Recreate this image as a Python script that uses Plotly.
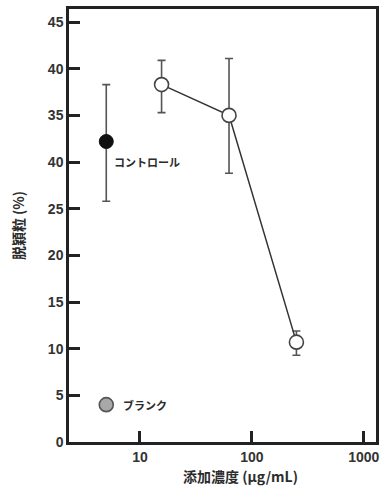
import plotly.graph_objects as go

# Treatment series (open circles joined by a line)
conc = [15.6, 62.5, 250]
ratio = [38.3, 35.0, 10.7]
err_plus = [2.6, 6.1, 1.2]
err_minus = [3.0, 6.2, 1.4]

# Reference points
control_x = [5]
control_y = [32.2]
control_plus = [6.1]
control_minus = [6.4]
blank_x = [5]
blank_y = [4.0]

y_tickvals = [0, 5, 10, 15, 20, 25, 30, 35, 40, 45]
y_ticktext = ["0", "5", "10", "15", "20", "25", "40", "35", "40", "45"]
x_tickvals = [10, 100, 1000]
x_ticktext = ["10", "100", "1000"]

font_family = "Liberation Sans, Noto Sans CJK JP, sans-serif"
jp_family = "Noto Sans CJK JP, sans-serif"
ink = "#2b2b2b"
bar_col = "#555555"

fig = go.Figure()

fig.add_trace(go.Scatter(
    x=control_x, y=control_y, mode="markers",
    marker=dict(size=14, color="#111111", line=dict(color="#111111", width=1)),
    error_y=dict(type="data", symmetric=False, array=control_plus, arrayminus=control_minus,
                 color=bar_col, thickness=1.6, width=4),
    showlegend=False,
))

fig.add_trace(go.Scatter(
    x=conc, y=ratio, mode="lines+markers",
    line=dict(color="#333333", width=1.5),
    marker=dict(size=14, color="white", line=dict(color="#444444", width=1.6)),
    error_y=dict(type="data", symmetric=False, array=err_plus, arrayminus=err_minus,
                 color=bar_col, thickness=1.6, width=4),
    showlegend=False,
))

fig.add_trace(go.Scatter(
    x=blank_x, y=blank_y, mode="markers",
    marker=dict(size=14, color="#a8a8a8", line=dict(color="#555555", width=1.6)),
    showlegend=False,
))

fig.add_annotation(x=0.699, y=control_y[0] - 2.2, xref="x", yref="y", text="コントロール",
                   showarrow=False, xanchor="left", xshift=6,
                   font=dict(family=jp_family, size=11, color=ink, weight="bold"))
fig.add_annotation(x=0.699, y=blank_y[0], xref="x", yref="y", text="ブランク",
                   showarrow=False, xanchor="left", xshift=15,
                   font=dict(family=jp_family, size=11, color=ink, weight="bold"))

# x-axis title placed as an annotation so it can sit right of centre
fig.add_annotation(x=242, y=476, xref="paper", yref="paper", text="添加濃度 (μg/mL)",
                   showarrow=False, xanchor="center", yanchor="middle",
                   font=dict(family=jp_family, size=14, color=ink, weight="bold"))

fig.update_layout(
    width=383, height=488,
    margin=dict(l=69, r=4, t=9, b=46),
    plot_bgcolor="white", paper_bgcolor="white",
    font=dict(family=font_family, color=ink),
    xaxis=dict(
        type="log", range=[0.366, 3.109],
        tickvals=x_tickvals, ticktext=x_ticktext,
        ticks="inside", ticklen=11, tickwidth=2.5, tickcolor="#222222",
        showline=True, linewidth=2.5, linecolor="#222222", mirror=True,
        showgrid=False, zeroline=False,
        tickfont=dict(family=font_family, size=14, color="#333333", weight="bold"),
    ),
    yaxis=dict(
        range=[0, 46.4],
        tickvals=y_tickvals, ticktext=y_ticktext,
        ticks="inside", ticklen=11, tickwidth=2.5, tickcolor="#222222",
        showline=True, linewidth=2.5, linecolor="#222222", mirror=True,
        showgrid=False, zeroline=False,
        tickfont=dict(family=font_family, size=14, color="#333333", weight="bold"),
        title=dict(text="脱穎粒 (%)", standoff=20,
                   font=dict(family=jp_family, size=14, color=ink, weight="bold")),
    ),
)

# convert the pixel position of the x title into paper coordinates
ann = fig.layout.annotations[-1]
plot_w = 383 - 69 - 4
plot_h = 488 - 9 - 46
ann.x = (ann.x - 69) / plot_w
ann.y = (488 - 46 - ann.y) / plot_h

fig.write_html("out.html")
